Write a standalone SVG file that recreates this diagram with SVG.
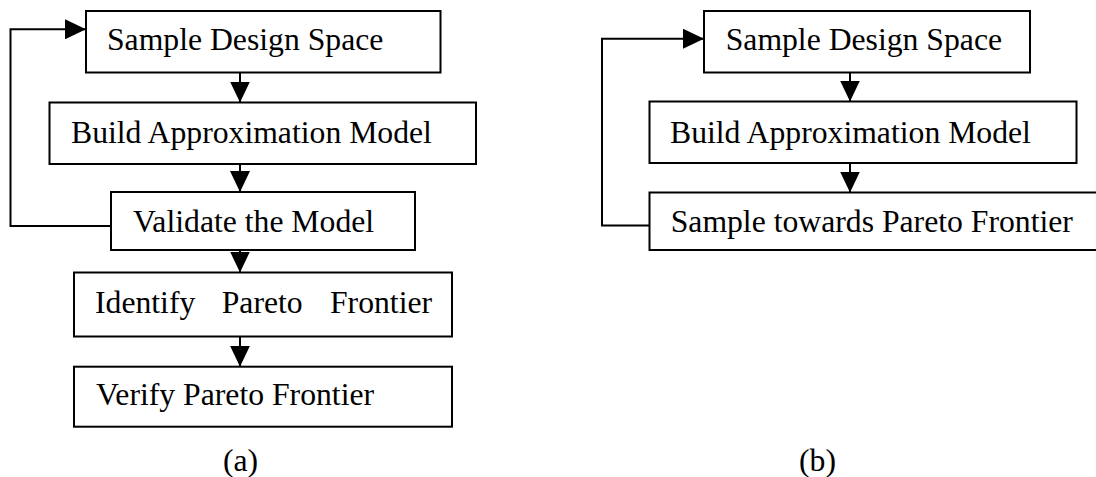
<svg xmlns="http://www.w3.org/2000/svg" width="1096" height="477" viewBox="0 0 1096 477">
  <style>
    .box { fill: #fff; stroke: #000; stroke-width: 2; }
    .lbl { font-family: "Liberation Serif", "Times New Roman", serif; font-size: 31.7px; fill: #000; }
    .wire { fill: none; stroke: #000; stroke-width: 2; }
  </style>
  <defs>
    <marker id="head" markerUnits="userSpaceOnUse" markerWidth="22" markerHeight="20" refX="21" refY="10" orient="auto">
      <path d="M0,0 L21,10 L0,20 Z" fill="#000"/>
    </marker>
  </defs>
  <rect width="1096" height="477" fill="#fff"/>

  <!-- (a) flow -->
  <g id="a-sample">
    <rect class="box" x="86" y="11" width="354.5" height="61.5"/>
    <text class="lbl" x="107" y="49.5">Sample Design Space</text>
  </g>
  <g id="a-build">
    <rect class="box" x="49.5" y="102.5" width="426.5" height="61.5"/>
    <text class="lbl" x="71" y="143">Build Approximation Model</text>
  </g>
  <g id="a-validate">
    <rect class="box" x="111" y="192" width="304" height="58"/>
    <text class="lbl" x="133" y="231.5">Validate the Model</text>
  </g>
  <g id="a-identify">
    <rect class="box" x="74" y="272.5" width="378" height="64"/>
    <text class="lbl" y="312.5"><tspan x="95">Identify</tspan><tspan x="221.7">Pareto</tspan><tspan x="330">Frontier</tspan></text>
  </g>
  <g id="a-verify">
    <rect class="box" x="74" y="366.7" width="378" height="60"/>
    <text class="lbl" x="96" y="405">Verify Pareto Frontier</text>
  </g>
  <text class="lbl" x="240.5" y="471" text-anchor="middle">(a)</text>

  <!-- (b) flow -->
  <g id="b-sample">
    <rect class="box" x="704" y="11" width="326" height="61.5"/>
    <text class="lbl" x="725.7" y="49.5">Sample Design Space</text>
  </g>
  <g id="b-build">
    <rect class="box" x="649.5" y="101.5" width="427" height="61.5"/>
    <text class="lbl" x="670" y="142.7">Build Approximation Model</text>
  </g>
  <g id="b-sample-pareto">
    <rect class="box" x="649.5" y="192.5" width="460" height="57.5"/>
    <text class="lbl" x="670.7" y="231.7">Sample towards Pareto Frontier</text>
  </g>
  <text class="lbl" x="817.5" y="471" text-anchor="middle">(b)</text>

  <g id="connectors">
    <!-- (a) -->
    <line class="wire" x1="240" y1="72.5" x2="240" y2="102.5" marker-end="url(#head)"/>
    <line class="wire" x1="240" y1="164" x2="240" y2="192" marker-end="url(#head)"/>
    <line class="wire" x1="240" y1="250" x2="240" y2="272.5" marker-end="url(#head)"/>
    <line class="wire" x1="240" y1="336.5" x2="240" y2="366.7" marker-end="url(#head)"/>
    <polyline class="wire" points="111,226 10.5,226 10.5,29.3 86,29.3" marker-end="url(#head)"/>
    <!-- (b) -->
    <line class="wire" x1="850" y1="72.5" x2="850" y2="101.5" marker-end="url(#head)"/>
    <line class="wire" x1="850" y1="163" x2="850" y2="192.5" marker-end="url(#head)"/>
    <polyline class="wire" points="649.5,225.5 602,225.5 602,38.7 704,38.7" marker-end="url(#head)"/>
  </g>
</svg>
